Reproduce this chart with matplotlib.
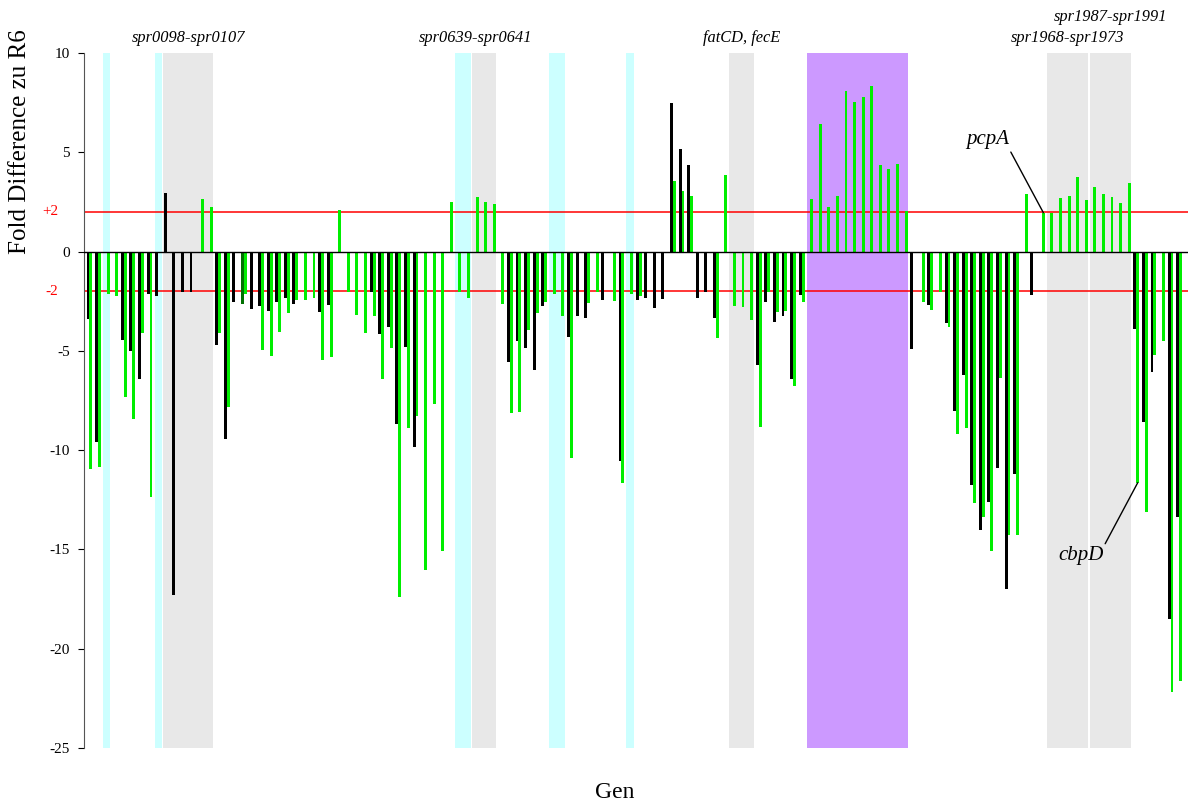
import matplotlib.pyplot as plt
import matplotlib.transforms as mtransforms
import numpy as np

plt.rcParams['font.family'] = ['Liberation Serif', 'DejaVu Serif']

N = None
# fold difference per gene (128 genes along the x axis), two strains each
black_vals = [
    -3.4, -9.58, N, N, -4.43, -5.03, -6.44, -2.15, -2.24, 2.93,
    -17.3, -2.06, -2.06, N, N, -4.69, -9.42, -2.54, -2.63, -2.89,
    -2.73, -2.98, -2.54, -2.33, -2.63, N, N, -3.03, -2.68, N,
    N, N, N, -2.03, -4.13, -3.79, -8.66, -4.8, -9.82, N,
    N, N, N, N, N, N, N, N, N, -5.54,
    -4.5, -4.85, -5.96, -2.73, N, N, -4.3, -3.23, -3.33, N,
    -2.42, N, -10.53, N, -2.42, -2.33, -2.84, -2.38, 7.46, 5.15,
    4.34, -2.33, -2.03, -3.33, N, N, N, N, -5.7, -2.54,
    -3.53, -3.23, -6.44, -2.17, N, N, N, N, N, N,
    N, N, N, N, N, N, -4.9, N, -2.68, N,
    -3.58, -8.01, -6.21, -11.78, -14.04, -12.59, -10.92, -16.97, -11.18, N,
    -2.17, N, N, N, N, N, N, N, N, N,
    N, N, -3.88, -8.57, -6.05, N, -18.48, -13.35,
]
green_vals = [
    -10.97, -10.83, -2.12, -2.24, -7.34, -8.41, -4.09, -12.36, N, N,
    N, N, N, 2.63, 2.22, -4.09, -7.83, N, -2.12, N,
    -4.97, -5.24, -4.04, -3.09, -2.42, -2.42, -2.33, -5.45, -5.29, 2.08,
    -2.06, -3.19, -4.09, -3.23, -6.44, -4.85, -17.4, -8.91, -8.27, -16.05,
    -7.67, -15.1, 2.52, -2.06, -2.33, 2.77, 2.52, 2.38, -2.63, -8.15,
    -8.1, -3.95, -3.09, -2.54, -2.12, -3.23, -10.42, N, -2.59, -2.03,
    N, -2.47, -11.64, -2.12, -2.24, N, N, N, 3.53, 3.03,
    2.82, N, N, -4.34, 3.88, -2.73, -2.77, -3.44, -8.82, -2.03,
    -3.03, -2.98, -6.77, -2.54, 2.63, 6.44, 2.22, 2.82, 8.1, 7.55,
    7.76, 8.36, 4.34, 4.18, 4.39, 2.03, N, -2.54, -2.93, -2.03,
    -3.79, -9.21, -8.87, -12.68, -13.35, -15.1, -6.35, -14.25, -14.25, 2.89,
    N, 1.96, 1.94, 2.68, 2.82, 3.74, 2.59, 3.23, 2.89, 2.73,
    2.47, 3.44, -11.64, -13.14, -5.2, -4.5, -22.17, -21.64,
]
dark_genes = [18]

# highlighted gene ranges (first, last)
cyan_ranges = [(2, 2), (8, 8), (43, 44), (54, 55), (63, 63)]
gray_ranges = [(9, 14), (45, 47), (75, 77), (112, 116), (117, 121)]
purple_ranges = [(84, 95)]

# operon labels: text, first gene, last gene, row (0 = lower, 1 = upper)
op_labels = ['spr0098-spr0107', 'spr0639-spr0641', 'fatCD, fecE',
             'spr1968-spr1973', 'spr1987-spr1991']
op_ranges = [(9, 14), (43, 47), (75, 77), (112, 116), (117, 121)]
op_rows = [0, 0, 0, 0, 1]

yticks = [10, 5, 0, -5, -10, -15, -20, -25]
ytick_labels = ['10', '5', '0', '-5', '-10', '-15', '-20', '-25']

black = np.array([np.nan if v is None else v for v in black_vals])
green = np.array([np.nan if v is None else v for v in green_vals])
idx = np.arange(len(black))

fig = plt.figure(figsize=(11.88, 8.01), dpi=100)
ax = fig.add_axes([84/1188, 53/801, 1104/1188, 695/801])

pad = 0.42
for a, b in cyan_ranges:
    ax.axvspan(a - pad, b + pad, color='#ccffff', lw=0, zorder=0)
for a, b in gray_ranges:
    ax.axvspan(a - pad, b + pad, color='#e8e8e8', lw=0, zorder=0)
for a, b in purple_ranges:
    ax.axvspan(a - pad, b + pad, color='#cc99ff', lw=0, zorder=0)

ax.axhline(2, color='red', lw=1.1, zorder=1)
ax.axhline(-2, color='red', lw=1.1, zorder=1)

off, w = 0.17, 0.34
mb = ~np.isnan(black)
bcol = ['#007000' if i in dark_genes else 'black' for i in idx[mb]]
ax.bar(idx[mb] - off, black[mb], width=w, color=bcol, lw=0, zorder=2)
mg = ~np.isnan(green)
ax.bar(idx[mg] + off, green[mg], width=w, color='#00ee00', lw=0, zorder=2)

ax.axhline(0, color='black', lw=1, zorder=3)

ax.set_xlim(-0.64, 128.03)
ax.set_ylim(-25, 10)
ax.set_xticks([])
ax.set_yticks(yticks)
ax.set_yticklabels(ytick_labels)
ax.tick_params(axis='y', direction='out', length=4, pad=6, labelsize=11)
for s in ['top', 'right', 'bottom']:
    ax.spines[s].set_visible(False)
ax.spines['left'].set_color('#555555')

trans = mtransforms.blended_transform_factory(ax.transAxes, ax.transData)
ax.text(-0.0236, 2, '+2', transform=trans, ha='right', va='center',
        color='red', fontsize=11)
ax.text(-0.0236, -2, '-2', transform=trans, ha='right', va='center',
        color='red', fontsize=11)

row_y = [10.75, 11.8]
for t, (a, b), r in zip(op_labels, op_ranges, op_rows):
    ax.text((a + b) / 2, row_y[r], t, ha='center', va='center',
            style='italic', fontsize=11.8, clip_on=False)

ax.annotate('pcpA', xy=(111 + off, green[111]), xytext=(104.7, 5.63),
            ha='center', va='center', style='italic', fontsize=15,
            arrowprops=dict(arrowstyle='-', color='black', lw=1,
                            relpos=(1.0, 0.0), shrinkA=0, shrinkB=0))
ax.annotate('cbpD', xy=(122 + off, green[122]), xytext=(115.56, -15.33),
            ha='center', va='center', style='italic', fontsize=15,
            arrowprops=dict(arrowstyle='-', color='black', lw=1,
                            relpos=(1.0, 1.0), shrinkA=0, shrinkB=0))

fig.text(20/1188, 1 - 142/801, 'Fold Difference zu R6', rotation=90,
         ha='center', va='center', fontsize=18)
fig.text(615/1188, 1 - 792/801, 'Gen', ha='center', va='center', fontsize=17)

fig.savefig('out.png', dpi=100)
